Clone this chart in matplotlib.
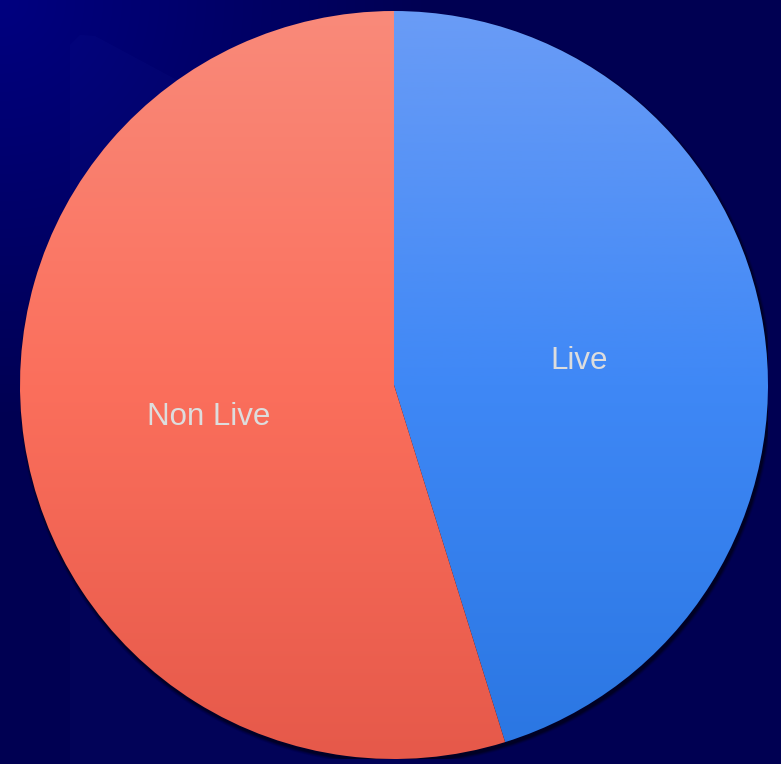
import numpy as np
import matplotlib
matplotlib.use("Agg")
import matplotlib.pyplot as plt
from matplotlib.colors import LinearSegmentedColormap
from matplotlib.patches import Polygon, Circle

plt.rcParams['font.family'] = ['Liberation Sans', 'DejaVu Sans']

# Share of the two categories
categories = ["Live", "Non Live"]
shares = [45.2, 54.8]

# Vertical gradient stops for each slice (top -> bottom)
slice_gradients = {
    "Live": ["#6a9cf6", "#3f88f6", "#2a76e2"],
    "Non Live": ["#f98a7a", "#fb6f5c", "#e6594a"],
}

W, H, DPI = 781, 764, 100
fig = plt.figure(figsize=(W / DPI, H / DPI), dpi=DPI)

# Background: navy, a touch brighter toward the top-left corner
bg = fig.add_axes([0, 0, 1, 1])
bg.set_axis_off()
yy, xx = np.mgrid[0:H, 0:W]
dist = np.sqrt((xx / W) ** 2 + (yy / H) ** 2)
t = np.clip(dist / 0.55, 0, 1)
c0 = np.array([0, 0, 128]) / 255
c1 = np.array([0, 0, 82]) / 255
img = c0[None, None, :] * (1 - t[..., None]) + c1[None, None, :] * t[..., None]
bg.imshow(img, extent=[0, W, H, 0], aspect="auto")
bg.set_xlim(0, W)
bg.set_ylim(H, 0)
# faint panel behind the pie
panel = Polygon([(70, 764), (70, 45), (80, 35), (95, 36), (400, 200), (400, 764)],
                closed=True, facecolor="#3040c0", alpha=0.06, edgecolor="none")
bg.add_patch(panel)

# Pie axes
cx, cy, r = 394, 385, 374
ax = fig.add_axes([(cx - r) / W, (H - cy - r) / H, 2 * r / W, 2 * r / H])
ax.set_axis_off()
ax.set_xlim(-1, 1)
ax.set_ylim(-1, 1)

# soft drop shadow
for k, a in zip(range(6, 0, -1), [0.05, 0.07, 0.09, 0.12, 0.16, 0.22]):
    ax.add_patch(Circle((0.004, -0.008), 1 + k * 0.0015, facecolor="black",
                        alpha=a, edgecolor="none", zorder=0))

wedges, texts = ax.pie(shares, labels=categories, startangle=90, counterclock=False,
                       radius=1, labeldistance=0.5,
                       textprops=dict(color="#dddddd", fontsize=22.5),
                       wedgeprops=dict(linewidth=0))
for tx in texts:
    tx.set_horizontalalignment("center")
    tx.set_verticalalignment("center")
    x, y = tx.get_position()
    tx.set_position((x, y - 0.011))
    tx.set_zorder(5)

grad = np.linspace(0, 1, 256)[:, None]
for w, name in zip(wedges, categories):
    cmap = LinearSegmentedColormap.from_list(name, slice_gradients[name])
    w.set_facecolor("none")
    im = ax.imshow(grad, cmap=cmap, extent=[-1, 1, -1, 1], origin="upper",
                   aspect="auto", zorder=2)
    im.set_clip_path(w)

ax.set_xlim(-1, 1)
ax.set_ylim(-1, 1)
ax.set_aspect("auto")

fig.savefig("out.png", dpi=DPI)
